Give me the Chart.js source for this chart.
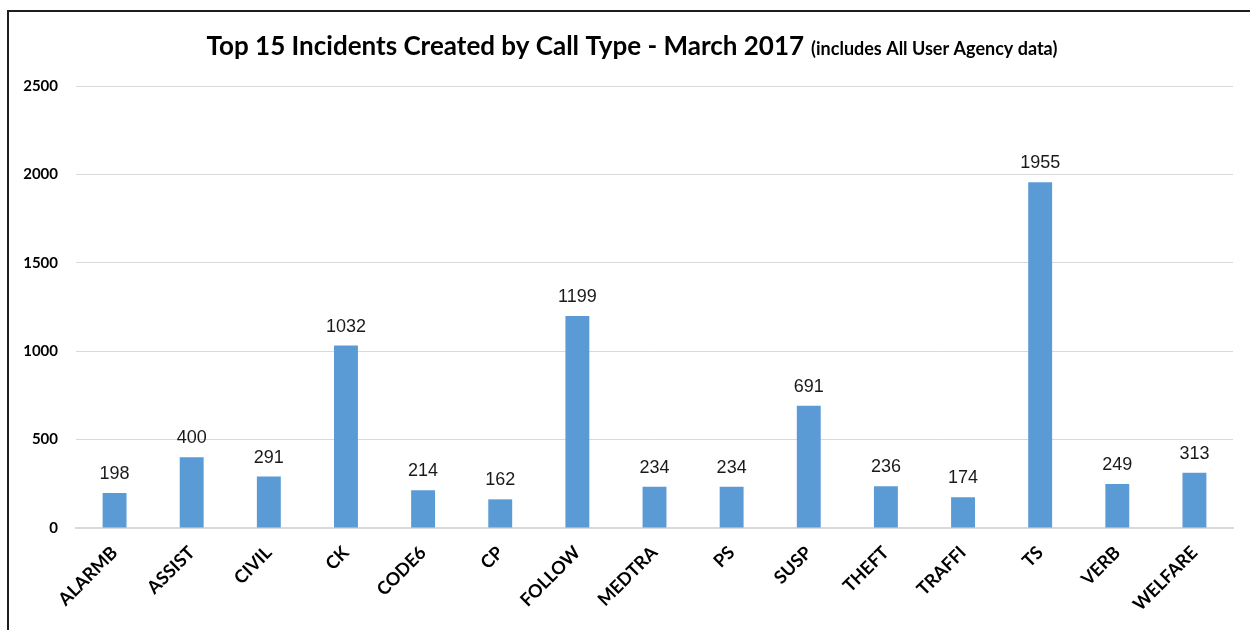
<!DOCTYPE html>
<html>
<head>
<meta charset="utf-8">
<script src="https://cdn.jsdelivr.net/npm/chart.js@4.4.1/dist/chart.umd.min.js"></script>
<style>
  html, body { margin: 0; padding: 0; background: #fff; overflow: hidden; }
  #wrap { position: absolute; left: 0; top: 0; width: 1250px; height: 630px; }
  #frame { position: absolute; left: 7px; top: 10px; width: 1260px; height: 660px; border: 2px solid #1e1e1e; box-sizing: border-box; }
  canvas { position: absolute; left: 0; top: 0; }
</style>
</head>
<body>
<div id="wrap">
  <div id="frame"></div>
  <canvas id="c" width="1250" height="630"></canvas>
</div>
<script>
const categories = ["ALARMB", "ASSIST", "CIVIL", "CK", "CODE6", "CP", "FOLLOW", "MEDTRA", "PS", "SUSP", "THEFT", "TRAFFI", "TS", "VERB", "WELFARE"];
const incidents = [198, 400, 291, 1032, 214, 162, 1199, 234, 234, 691, 236, 174, 1955, 249, 313];
const yTickValues = [0, 500, 1000, 1500, 2000, 2500];
const titleMain = "Top 15 Incidents Created by Call Type - March 2017";
const titleSub = "(includes All User Agency data)";

const titlePlugin = {
  id: 'mixedTitle',
  afterDraw(chart) {
    const ctx = chart.ctx;
    ctx.save();
    ctx.fillStyle = '#000';
    ctx.textBaseline = 'alphabetic';
    ctx.textAlign = 'left';
    ctx.font = 'bold 26px Lato';
    const w1 = ctx.measureText(titleMain).width;
    ctx.font = 'bold 18px Lato';
    const w2 = ctx.measureText(titleSub).width;
    const gap = 7;
    const total = w1 + gap + w2;
    const startX = 632 - total / 2;
    ctx.font = 'bold 26px Lato';
    ctx.fillText(titleMain, startX, 55);
    ctx.font = 'bold 18px Lato';
    ctx.fillText(titleSub, startX + w1 + gap, 55);
    ctx.restore();
  }
};

const labelPlugin = {
  id: 'barLabels',
  afterDatasetsDraw(chart) {
    const ctx = chart.ctx;
    const meta = chart.getDatasetMeta(0);
    ctx.save();
    ctx.font = '18px "Liberation Sans"';
    ctx.fillStyle = '#1a1a1a';
    ctx.textAlign = 'center';
    ctx.textBaseline = 'bottom';
    meta.data.forEach((bar, i) => {
      ctx.fillText(String(incidents[i]), bar.x, bar.y - 10);
    });
    ctx.restore();
  }
};

new Chart(document.getElementById('c'), {
  type: 'bar',
  data: {
    labels: categories,
    datasets: [{
      data: incidents,
      backgroundColor: '#5b9bd5',
      borderWidth: 0,
      barPercentage: 0.31,
      categoryPercentage: 1.0
    }]
  },
  options: {
    responsive: false,
    devicePixelRatio: 1,
    animation: false,
    layout: { padding: { top: 86, right: 17, left: 0, bottom: 0 } },
    plugins: {
      legend: { display: false },
      title: { display: false },
      tooltip: { enabled: false }
    },
    scales: {
      x: {
        grid: { display: false, drawTicks: false },
        border: { display: true, color: '#d9d9d9', width: 2 },
        ticks: {
          color: '#000',
          font: { family: 'Lato', weight: 'bold', size: 18 },
          minRotation: 45,
          maxRotation: 45,
          padding: 14,
          autoSkip: false
        },
        afterFit(scale) { scale.height = 102; }
      },
      y: {
        min: 0,
        max: 2500,
        afterBuildTicks(scale) { scale.ticks = yTickValues.map(v => ({ value: v })); },
        grid: { color: '#d9d9d9', lineWidth: 1, drawTicks: false },
        border: { display: false },
        ticks: {
          color: '#000',
          font: { family: 'Lato', weight: 'bold', size: 15 },
          padding: 18,
          callback: (v) => String(v)
        },
        afterFit(scale) { scale.width = 76; }
      }
    }
  },
  plugins: [titlePlugin, labelPlugin]
});
</script>
</body>
</html>
